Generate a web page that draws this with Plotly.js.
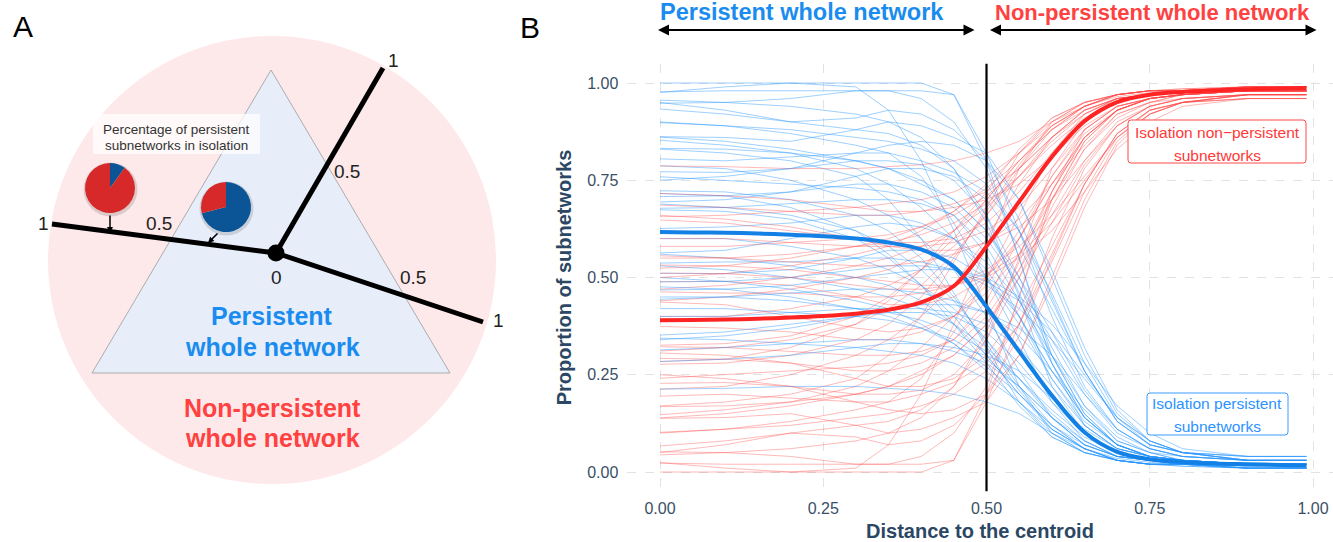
<!DOCTYPE html>
<html><head><meta charset="utf-8">
<script src="https://cdn.plot.ly/plotly-3.0.1.min.js"></script>
<style>html,body{margin:0;padding:0;background:#fff}#chart{width:1333px;height:542px}</style>
</head><body><div id="chart"></div>
<script>
// ---------------- DATA ----------------
// Panel B: distance grid of the individual runs
const distance = [0, 0.1, 0.2, 0.3, 0.35, 0.4, 0.45, 0.5, 0.55, 0.6, 0.65, 0.7, 0.75, 0.8, 0.9, 0.99];
// Proportion of persistent subnetworks in isolation, one run per array
const persistentRuns = [
  [1.0, 1.0, 1.0, 1.0, 1.0, 1.0, 0.97, 0.80, 0.55, 0.28, 0.12, 0.06, 0.04, 0.03, 0.02, 0.02],
  [0.976, 0.99, 1.0, 0.99, 0.93, 0.80, 0.62, 0.42, 0.22, 0.10, 0.05, 0.03, 0.02, 0.015, 0.01, 0.01],
  [0.956, 0.95, 0.96, 0.98, 0.98, 0.96, 0.90, 0.78, 0.55, 0.30, 0.15, 0.07, 0.04, 0.03, 0.02, 0.02],
  [0.95, 0.93, 0.90, 0.88, 0.87, 0.84, 0.78, 0.66, 0.45, 0.22, 0.10, 0.05, 0.03, 0.02, 0.015, 0.01],
  [0.933, 0.92, 0.90, 0.91, 0.93, 0.92, 0.88, 0.80, 0.65, 0.45, 0.26, 0.13, 0.07, 0.05, 0.03, 0.03],
  [0.898, 0.89, 0.87, 0.84, 0.82, 0.76, 0.64, 0.50, 0.34, 0.18, 0.08, 0.04, 0.03, 0.02, 0.02, 0.02],
  [0.862, 0.86, 0.85, 0.88, 0.90, 0.89, 0.86, 0.82, 0.70, 0.50, 0.30, 0.15, 0.08, 0.05, 0.04, 0.04],
  [0.853, 0.84, 0.82, 0.80, 0.78, 0.74, 0.70, 0.62, 0.48, 0.30, 0.15, 0.07, 0.04, 0.03, 0.02, 0.02],
  [0.83, 0.82, 0.80, 0.76, 0.70, 0.60, 0.46, 0.32, 0.18, 0.09, 0.05, 0.03, 0.02, 0.02, 0.01, 0.01],
  [0.805, 0.80, 0.81, 0.82, 0.82, 0.80, 0.77, 0.72, 0.62, 0.46, 0.28, 0.14, 0.07, 0.05, 0.03, 0.03],
  [0.787, 0.78, 0.75, 0.70, 0.66, 0.60, 0.52, 0.40, 0.26, 0.14, 0.07, 0.04, 0.03, 0.02, 0.02, 0.02],
  [0.772, 0.77, 0.78, 0.80, 0.80, 0.79, 0.75, 0.66, 0.50, 0.32, 0.17, 0.08, 0.05, 0.03, 0.02, 0.02],
  [0.759, 0.75, 0.74, 0.73, 0.72, 0.70, 0.66, 0.58, 0.44, 0.28, 0.14, 0.07, 0.04, 0.03, 0.02, 0.02],
  [0.723, 0.72, 0.70, 0.66, 0.62, 0.55, 0.45, 0.33, 0.21, 0.11, 0.06, 0.03, 0.02, 0.02, 0.01, 0.01],
  [0.708, 0.71, 0.72, 0.74, 0.74, 0.72, 0.68, 0.60, 0.48, 0.34, 0.20, 0.10, 0.06, 0.04, 0.03, 0.03],
  [0.689, 0.68, 0.66, 0.62, 0.58, 0.52, 0.44, 0.34, 0.22, 0.12, 0.06, 0.03, 0.02, 0.02, 0.01, 0.01],
  [0.678, 0.68, 0.69, 0.70, 0.70, 0.69, 0.66, 0.56, 0.40, 0.24, 0.12, 0.06, 0.04, 0.03, 0.02, 0.02],
  [0.716, 0.71, 0.68, 0.62, 0.56, 0.48, 0.38, 0.28, 0.17, 0.09, 0.05, 0.03, 0.02, 0.015, 0.01, 0.01],
  [0.694, 0.70, 0.72, 0.76, 0.78, 0.78, 0.76, 0.70, 0.58, 0.42, 0.26, 0.13, 0.07, 0.05, 0.03, 0.03],
  [0.674, 0.67, 0.65, 0.60, 0.55, 0.48, 0.40, 0.30, 0.20, 0.12, 0.07, 0.04, 0.03, 0.02, 0.02, 0.02],
  [0.626, 0.63, 0.64, 0.66, 0.66, 0.64, 0.60, 0.52, 0.40, 0.26, 0.14, 0.07, 0.04, 0.03, 0.02, 0.02],
  [0.60, 0.60, 0.58, 0.55, 0.52, 0.48, 0.42, 0.34, 0.24, 0.14, 0.07, 0.04, 0.03, 0.02, 0.02, 0.02],
  [0.563, 0.57, 0.60, 0.63, 0.64, 0.63, 0.60, 0.54, 0.44, 0.30, 0.17, 0.09, 0.05, 0.04, 0.03, 0.03],
  [0.56, 0.55, 0.53, 0.50, 0.48, 0.44, 0.38, 0.30, 0.20, 0.11, 0.06, 0.03, 0.02, 0.02, 0.01, 0.01],
  [0.537, 0.54, 0.54, 0.55, 0.55, 0.54, 0.52, 0.48, 0.42, 0.34, 0.24, 0.14, 0.08, 0.05, 0.03, 0.03],
  [0.53, 0.52, 0.50, 0.47, 0.45, 0.42, 0.38, 0.32, 0.24, 0.15, 0.08, 0.04, 0.03, 0.02, 0.02, 0.02],
  [0.511, 0.51, 0.52, 0.55, 0.57, 0.57, 0.55, 0.50, 0.40, 0.26, 0.14, 0.07, 0.04, 0.03, 0.02, 0.02],
  [0.50, 0.49, 0.47, 0.44, 0.42, 0.38, 0.33, 0.26, 0.18, 0.10, 0.05, 0.03, 0.02, 0.02, 0.01, 0.01],
  [0.489, 0.49, 0.50, 0.52, 0.53, 0.53, 0.52, 0.49, 0.44, 0.36, 0.25, 0.14, 0.08, 0.05, 0.03, 0.03],
  [0.476, 0.47, 0.45, 0.42, 0.40, 0.37, 0.33, 0.27, 0.20, 0.12, 0.06, 0.03, 0.02, 0.02, 0.01, 0.01],
  [0.468, 0.47, 0.48, 0.50, 0.51, 0.52, 0.52, 0.50, 0.45, 0.38, 0.28, 0.17, 0.10, 0.06, 0.04, 0.04],
  [0.45, 0.45, 0.44, 0.42, 0.41, 0.39, 0.36, 0.31, 0.24, 0.16, 0.09, 0.05, 0.03, 0.02, 0.02, 0.02],
  [0.444, 0.45, 0.46, 0.47, 0.47, 0.46, 0.44, 0.41, 0.35, 0.26, 0.16, 0.08, 0.05, 0.03, 0.02, 0.02],
  [0.42, 0.42, 0.41, 0.40, 0.39, 0.37, 0.34, 0.29, 0.22, 0.14, 0.08, 0.04, 0.03, 0.02, 0.02, 0.02],
  [0.40, 0.40, 0.41, 0.42, 0.42, 0.42, 0.41, 0.38, 0.32, 0.22, 0.12, 0.06, 0.04, 0.03, 0.02, 0.02],
  [0.352, 0.36, 0.38, 0.40, 0.41, 0.41, 0.40, 0.36, 0.28, 0.18, 0.10, 0.05, 0.03, 0.02, 0.02, 0.02],
  [0.344, 0.34, 0.33, 0.32, 0.31, 0.30, 0.28, 0.24, 0.18, 0.11, 0.06, 0.03, 0.02, 0.02, 0.01, 0.01],
  [0.34, 0.35, 0.37, 0.40, 0.42, 0.43, 0.43, 0.41, 0.37, 0.30, 0.20, 0.11, 0.06, 0.04, 0.03, 0.03],
  [0.314, 0.32, 0.33, 0.34, 0.34, 0.33, 0.31, 0.28, 0.22, 0.14, 0.07, 0.04, 0.03, 0.02, 0.02, 0.02],
  [0.284, 0.29, 0.30, 0.32, 0.33, 0.33, 0.32, 0.30, 0.26, 0.19, 0.11, 0.06, 0.04, 0.03, 0.02, 0.02],
  [0.213, 0.215, 0.22, 0.22, 0.215, 0.21, 0.20, 0.18, 0.15, 0.10, 0.06, 0.035, 0.025, 0.02, 0.015, 0.015],
  [0.75, 0.76, 0.78, 0.82, 0.84, 0.85, 0.84, 0.80, 0.70, 0.52, 0.32, 0.16, 0.08, 0.05, 0.04, 0.04],
  [0.832, 0.83, 0.82, 0.78, 0.74, 0.68, 0.60, 0.50, 0.38, 0.24, 0.13, 0.07, 0.04, 0.03, 0.02, 0.02],
  [0.90, 0.89, 0.88, 0.86, 0.85, 0.83, 0.80, 0.74, 0.62, 0.44, 0.26, 0.13, 0.07, 0.05, 0.04, 0.04],
  [0.977, 0.98, 0.98, 0.98, 0.98, 0.98, 0.97, 0.82, 0.62, 0.40, 0.22, 0.11, 0.06, 0.04, 0.03, 0.03],
  [0.948, 0.95, 0.94, 0.92, 0.90, 0.86, 0.78, 0.64, 0.46, 0.28, 0.14, 0.07, 0.04, 0.03, 0.02, 0.02],
  [0.861, 0.85, 0.83, 0.80, 0.78, 0.75, 0.70, 0.62, 0.50, 0.36, 0.21, 0.11, 0.06, 0.04, 0.03, 0.03]
];
// Fitted mean curves
const meanDistance = [0, 0.05, 0.1, 0.15, 0.2, 0.25, 0.3, 0.35, 0.4, 0.45, 0.5, 0.55, 0.6, 0.65, 0.7, 0.75, 0.8, 0.85, 0.9, 0.95, 0.99];
const meanPersistent = [0.617, 0.616, 0.615, 0.613, 0.61, 0.606, 0.60, 0.59, 0.572, 0.528, 0.425, 0.31, 0.197, 0.102, 0.052, 0.033, 0.026, 0.022, 0.02, 0.018, 0.017];
const meanNonPersistent = [0.39, 0.391, 0.392, 0.394, 0.397, 0.401, 0.407, 0.417, 0.436, 0.478, 0.58, 0.695, 0.81, 0.902, 0.951, 0.970, 0.977, 0.981, 0.984, 0.986, 0.987];
const threshold = 0.5;
const xTicks = [0, 0.25, 0.5, 0.75, 1];
const xTickLabels = ['0.00', '0.25', '0.50', '0.75', '1.00'];
const yTicks = [0, 0.25, 0.5, 0.75, 1];
const yTickLabels = ['0.00', '0.25', '0.50', '0.75', '1.00'];
// Panel A pies: share of persistent / non-persistent subnetworks in isolation
const pieLabels = ['Persistent', 'Non-persistent'];
const pieOuterValues = [0.10, 0.90];
const pieInnerValues = [0.71, 0.29];
const diagramTicks = ['0', '0.5', '1'];

// ---------------- LAYOUT HELPERS ----------------
const W = 1333, H = 542;
const FONT = 'Liberation Sans, Arial, sans-serif';
const P = x => x / W, Q = y => 1 - y / H;
const BLUE_THIN = 'rgba(40,150,255,0.45)', RED_THIN = 'rgba(255,70,70,0.38)';
const BLUE = '#1380e6', RED = '#ff2424';
const TICKCOL = '#3a4f66', TITLECOL = '#2b4763';

const traces = [];
persistentRuns.forEach(run => {
  traces.push({x: distance, y: run, type: 'scatter', mode: 'lines', line: {color: BLUE_THIN, width: 1}, hoverinfo: 'skip', showlegend: false});
  traces.push({x: distance, y: run.map(v => 1 - v), type: 'scatter', mode: 'lines', line: {color: RED_THIN, width: 1}, hoverinfo: 'skip', showlegend: false});
});
traces.push({x: [threshold, threshold], y: [-0.05, 1.05], type: 'scatter', mode: 'lines', line: {color: '#000', width: 2.2}, hoverinfo: 'skip', showlegend: false});
traces.push({x: meanDistance, y: meanPersistent, type: 'scatter', mode: 'lines', line: {color: BLUE, width: 4, shape: 'spline', smoothing: 0.9}, hoverinfo: 'skip', showlegend: false});
traces.push({x: meanDistance, y: meanNonPersistent, type: 'scatter', mode: 'lines', line: {color: RED, width: 4, shape: 'spline', smoothing: 0.9}, hoverinfo: 'skip', showlegend: false});

function pie(values, cx, cy, r) {
  return {type: 'pie', values: values, labels: pieLabels, sort: false, direction: 'clockwise', rotation: 0,
    marker: {colors: ['#0b5597', '#d7292a'], line: {width: 0}}, textinfo: 'none', hoverinfo: 'skip', showlegend: false,
    domain: {x: [P(cx - r), P(cx + r)], y: [Q(cy + r), Q(cy - r)]}};
}
traces.push(pie(pieOuterValues, 110, 188, 25));
traces.push(pie(pieInnerValues, 226, 207, 25));

// Panel A geometry (pixel positions)
const node = [276, 253];
const ends = [[383, 68], [52, 224], [483, 322]];
const shapes = [];
shapes.push({type: 'circle', xref: 'paper', yref: 'paper', x0: P(272 - 224), x1: P(272 + 224), y0: Q(260 + 224), y1: Q(260 - 224), fillcolor: '#fde9e9', line: {width: 0}, layer: 'below'});
shapes.push({type: 'path', xref: 'paper', yref: 'paper',
  path: `M ${P(271)},${Q(70)} L ${P(92)},${Q(373)} L ${P(450)},${Q(373)} Z`,
  fillcolor: '#e7eefa', line: {color: '#9a9a9a', width: 0.8}, layer: 'below'});
shapes.push({type: 'rect', xref: 'paper', yref: 'paper', x0: P(93), x1: P(260), y0: Q(154), y1: Q(114), fillcolor: 'rgba(255,255,255,0.72)', line: {width: 0}, layer: 'below'});
[[110, 188], [226, 207]].forEach(([cx, cy]) => {
  shapes.push({type: 'circle', xref: 'paper', yref: 'paper', x0: P(cx - 26.5), x1: P(cx + 27.5), y0: Q(cy + 28.5), y1: Q(cy - 25.5), fillcolor: 'rgba(0,0,0,0.13)', line: {width: 0}, layer: 'below'});
});
ends.forEach(([ex, ey]) => {
  shapes.push({type: 'line', xref: 'paper', yref: 'paper', x0: P(node[0]), y0: Q(node[1]), x1: P(ex), y1: Q(ey), line: {color: '#000', width: 5}, layer: 'below'});
});
shapes.push({type: 'circle', xref: 'paper', yref: 'paper', x0: P(node[0] - 8.5), x1: P(node[0] + 8.5), y0: Q(node[1] + 8.5), y1: Q(node[1] - 8.5), fillcolor: '#000', line: {width: 0}, layer: 'below'});

// Panel B label boxes (rounded rectangles)
function roundRect(x0, y0, x1, y1, r) {
  const a = (x, y) => `${P(x)},${Q(y)}`;
  return `M ${a(x0 + r, y0)} L ${a(x1 - r, y0)} Q ${a(x1, y0)} ${a(x1, y0 + r)} L ${a(x1, y1 - r)} Q ${a(x1, y1)} ${a(x1 - r, y1)} L ${a(x0 + r, y1)} Q ${a(x0, y1)} ${a(x0, y1 - r)} L ${a(x0, y0 + r)} Q ${a(x0, y0)} ${a(x0 + r, y0)} Z`;
}
shapes.push({type: 'path', xref: 'paper', yref: 'paper', path: roundRect(1128, 120, 1306, 163, 3), fillcolor: '#fff', line: {color: '#ff4a4a', width: 1}, layer: 'above'});
shapes.push({type: 'path', xref: 'paper', yref: 'paper', path: roundRect(1147, 393, 1288, 435, 3), fillcolor: '#fff', line: {color: '#3a9cff', width: 1}, layer: 'above'});

function txt(x, y, text, size, color, extra) {
  return Object.assign({xref: 'paper', yref: 'paper', x: P(x), y: Q(y), text: text, showarrow: false,
    xanchor: 'center', yanchor: 'middle', font: {family: FONT, size: size, color: color}}, extra || {});
}
function arrow(hx, hy, tx, ty, width, size, both) {
  return {xref: 'paper', yref: 'paper', x: P(hx), y: Q(hy), ax: tx - hx, ay: ty - hy, axref: 'pixel', ayref: 'pixel',
    text: '', showarrow: true, arrowhead: 2, arrowsize: size, arrowwidth: width, arrowcolor: '#000',
    arrowside: both ? 'end+start' : 'end', standoff: 0, startstandoff: 0};
}
const annotations = [
  txt(23, 27, 'A', 30, '#000'),
  txt(530, 28, 'B', 30, '#000'),
  // Panel A
  txt(176, 130, 'Percentage of persistent', 13.5, '#333'),
  txt(176, 145, 'subnetworks in isolation', 13.5, '#333'),
  txt(393, 60, diagramTicks[2], 19, '#222'),
  txt(347, 171, diagramTicks[1], 19, '#222'),
  txt(43, 223, diagramTicks[2], 19, '#222'),
  txt(159, 223, diagramTicks[1], 19, '#222'),
  txt(276, 277, diagramTicks[0], 19, '#222'),
  txt(413, 277, diagramTicks[1], 19, '#222'),
  txt(498, 320, diagramTicks[2], 19, '#222'),
  txt(272, 316, '<b>Persistent</b>', 25, '#1a8cf0'),
  txt(272, 347, '<b>whole network</b>', 25, '#1a8cf0'),
  txt(272, 408, '<b>Non-persistent</b>', 25, '#ff4141'),
  txt(272, 438, '<b>whole network</b>', 25, '#ff4141'),
  arrow(110, 233, 110, 214, 1.5, 0.8, false),
  arrow(208, 243, 219, 232, 1.5, 0.8, false),
  // Panel B header
  txt(802, 12, '<b>Persistent whole network</b>', 23.5, '#1a8cf0'),
  txt(1152, 12, '<b>Non-persistent whole network</b>', 22, '#ff4141'),
  arrow(658, 30, 976, 30, 2.2, 1, true),
  arrow(990, 30, 1318, 30, 2.2, 1, true),
  // Panel B labels
  txt(1217, 132, 'Isolation non\u2212persistent', 15.5, '#ff3838'),
  txt(1217, 155, 'subnetworks', 15.5, '#ff3838'),
  txt(1217, 403, 'Isolation persistent', 15.5, '#2b93ff'),
  txt(1217, 426, 'subnetworks', 15.5, '#2b93ff')
];

const axisCommon = {showgrid: true, gridcolor: '#e2e2e2', griddash: 'dash', gridwidth: 1, zeroline: false, showline: false,
  ticks: '', tickmode: 'array', tickfont: {family: FONT, size: 16, color: TICKCOL}, fixedrange: true};
const layout = {
  width: W, height: H, margin: {l: 0, r: 0, t: 0, b: 0}, paper_bgcolor: '#fff', plot_bgcolor: 'rgba(0,0,0,0)', showlegend: false,
  xaxis: Object.assign({}, axisCommon, {domain: [627.35 / W, 1332.6 / W], range: [-0.05, 1.03], tickvals: xTicks, ticktext: xTickLabels, ticklabelstandoff: 6,
    title: {text: '<b>Distance to the centroid</b>', font: {family: FONT, size: 20, color: TITLECOL}, standoff: 8}}),
  yaxis: Object.assign({}, axisCommon, {domain: [1 - 491.45 / H, 1 - 63.55 / H], range: [-0.05, 1.05], tickvals: yTicks, ticktext: yTickLabels, ticklabelstandoff: 8,
    title: {text: '<b>Proportion of subnetworks</b>', font: {family: FONT, size: 20, color: TITLECOL}, standoff: 10}}),
  shapes: shapes, annotations: annotations
};
Plotly.newPlot('chart', traces, layout, {displayModeBar: false, staticPlot: true});
</script></body></html>
